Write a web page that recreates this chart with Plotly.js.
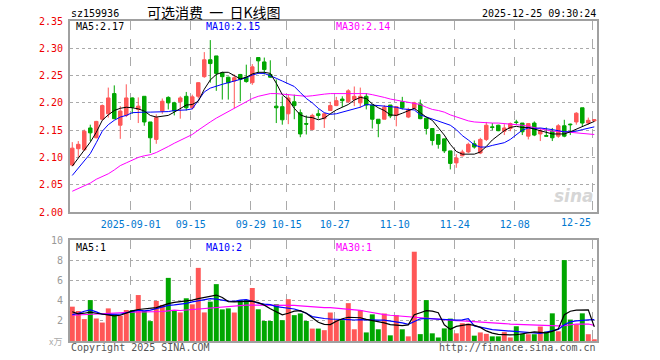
<!DOCTYPE html>
<html><head><meta charset="utf-8">
<script src="https://cdn.plot.ly/plotly-3.0.1.min.js"></script>
<style>html,body{margin:0;padding:0;background:#fff;}#chart{width:660px;height:360px;}</style>
</head><body><div id="chart"></div>
<script>
// ---- data ----
const dateLabels = ['2025-09-01','09-15','09-29','10-15','10-27','11-10','11-24','12-08','12-25'];
const dateIndex  = [10,20,30,36,44,54,64,74,87];
const priceTicks = [2.00,2.05,2.10,2.15,2.20,2.25,2.30,2.35];
const volTicks   = [2,4,6,8,10];

const openP  = [2.086,2.116,2.114,2.154,2.136,2.170,2.180,2.217,2.159,2.177,2.209,2.188,2.212,2.165,2.133,2.185,2.210,2.200,2.202,2.212,2.191,2.212,2.248,2.279,2.286,2.255,2.247,2.240,2.252,2.247,2.237,2.283,2.275,2.252,2.194,2.193,2.180,2.202,2.182,2.162,2.151,2.180,2.171,2.186,2.195,2.207,2.202,2.206,2.200,2.212,2.196,2.170,2.170,2.196,2.177,2.202,2.174,2.190,2.198,2.172,2.153,2.142,2.134,2.112,2.090,2.103,2.110,2.125,2.108,2.133,2.156,2.159,2.148,2.153,2.165,2.163,2.139,2.163,2.143,2.140,2.148,2.139,2.158,2.161,2.165,2.191,2.163,2.167];
const highP  = [2.128,2.130,2.151,2.160,2.167,2.197,2.228,2.232,2.194,2.234,2.210,2.210,2.212,2.165,2.179,2.208,2.212,2.202,2.212,2.220,2.215,2.238,2.293,2.315,2.286,2.257,2.248,2.252,2.253,2.270,2.271,2.283,2.283,2.278,2.243,2.212,2.215,2.215,2.188,2.177,2.180,2.188,2.182,2.202,2.211,2.212,2.225,2.230,2.228,2.218,2.196,2.170,2.196,2.196,2.193,2.211,2.191,2.202,2.206,2.172,2.153,2.142,2.134,2.112,2.106,2.114,2.127,2.131,2.136,2.165,2.163,2.160,2.161,2.164,2.169,2.163,2.162,2.166,2.154,2.155,2.154,2.161,2.169,2.162,2.183,2.191,2.173,2.170];
const lowP   = [2.084,2.100,2.112,2.130,2.135,2.168,2.173,2.170,2.134,2.174,2.180,2.163,2.158,2.108,2.125,2.180,2.188,2.177,2.171,2.186,2.188,2.208,2.246,2.237,2.222,2.206,2.206,2.190,2.203,2.237,2.233,2.253,2.252,2.246,2.163,2.160,2.161,2.170,2.137,2.142,2.151,2.171,2.154,2.185,2.194,2.192,2.200,2.194,2.191,2.188,2.153,2.137,2.170,2.172,2.157,2.188,2.172,2.188,2.170,2.142,2.122,2.116,2.108,2.078,2.081,2.102,2.108,2.116,2.106,2.130,2.150,2.148,2.141,2.148,2.160,2.141,2.133,2.139,2.130,2.139,2.130,2.136,2.137,2.141,2.160,2.157,2.160,2.165];
const closeP = [2.117,2.124,2.148,2.145,2.166,2.195,2.209,2.171,2.185,2.209,2.192,2.194,2.165,2.136,2.173,2.203,2.200,2.185,2.209,2.191,2.211,2.237,2.279,2.272,2.254,2.248,2.237,2.246,2.243,2.239,2.266,2.277,2.261,2.247,2.191,2.169,2.209,2.195,2.143,2.161,2.177,2.177,2.180,2.195,2.204,2.204,2.222,2.212,2.212,2.196,2.170,2.162,2.192,2.176,2.193,2.191,2.188,2.200,2.171,2.153,2.131,2.124,2.112,2.089,2.099,2.110,2.124,2.119,2.133,2.159,2.155,2.149,2.154,2.162,2.164,2.147,2.162,2.141,2.149,2.139,2.136,2.158,2.139,2.160,2.181,2.163,2.168,2.169];

const priceMA5  = [2.084,2.099,2.114,2.128,2.146,2.168,2.178,2.186,2.190,2.192,2.191,2.189,2.185,2.177,2.174,2.175,2.177,2.183,2.190,2.196,2.197,2.203,2.225,2.242,2.252,2.256,2.256,2.250,2.244,2.247,2.253,2.256,2.256,2.254,2.236,2.215,2.206,2.190,2.178,2.174,2.173,2.169,2.172,2.180,2.187,2.192,2.197,2.205,2.210,2.208,2.198,2.191,2.186,2.178,2.177,2.181,2.186,2.190,2.182,2.174,2.168,2.155,2.141,2.124,2.111,2.106,2.106,2.106,2.110,2.120,2.132,2.141,2.149,2.155,2.157,2.155,2.155,2.152,2.149,2.146,2.143,2.143,2.143,2.147,2.152,2.157,2.162,2.166];
const priceMA10 = [2.067,2.081,2.093,2.107,2.127,2.148,2.160,2.168,2.174,2.177,2.182,2.183,2.183,2.183,2.183,2.183,2.184,2.186,2.186,2.187,2.189,2.205,2.220,2.227,2.231,2.234,2.237,2.240,2.243,2.246,2.251,2.254,2.254,2.250,2.245,2.240,2.235,2.230,2.219,2.208,2.200,2.190,2.182,2.179,2.180,2.183,2.185,2.188,2.192,2.197,2.196,2.195,2.195,2.194,2.192,2.189,2.188,2.187,2.178,2.174,2.170,2.167,2.163,2.159,2.151,2.140,2.132,2.123,2.119,2.119,2.122,2.124,2.127,2.133,2.142,2.150,2.154,2.153,2.154,2.153,2.151,2.149,2.147,2.147,2.148,2.151,2.154,2.156];
const priceMA30 = [2.038,2.043,2.048,2.053,2.060,2.065,2.070,2.077,2.085,2.090,2.095,2.100,2.103,2.105,2.109,2.114,2.120,2.126,2.131,2.136,2.142,2.150,2.158,2.165,2.172,2.178,2.184,2.190,2.196,2.203,2.208,2.212,2.215,2.217,2.217,2.216,2.215,2.214,2.213,2.212,2.213,2.215,2.216,2.217,2.217,2.217,2.217,2.217,2.217,2.217,2.215,2.213,2.210,2.207,2.205,2.203,2.202,2.200,2.197,2.192,2.188,2.186,2.183,2.178,2.174,2.170,2.167,2.165,2.164,2.164,2.163,2.163,2.162,2.162,2.161,2.159,2.157,2.155,2.152,2.150,2.148,2.148,2.147,2.146,2.145,2.144,2.143,2.142];

const volume = [3.40,2.97,2.17,4.05,2.23,1.83,3.23,2.63,2.50,3.07,3.07,4.55,2.97,1.97,3.97,3.57,6.25,2.97,2.83,4.23,3.63,7.24,2.83,3.90,5.63,3.13,3.23,2.82,4.05,4.05,5.25,3.14,1.98,1.98,3.64,2.06,4.14,2.56,2.73,1.98,1.23,1.23,1.07,2.82,2.06,2.06,3.75,1.16,3.04,0.85,2.64,1.16,2.72,0.56,2.56,1.16,0.46,8.84,0.68,4.05,0.76,0.35,1.25,2.22,0.76,1.76,1.72,0.53,0.85,0.71,0.46,0.46,0.88,0.35,1.46,0.71,0.67,0.67,1.43,0.93,2.74,0.96,8.01,2.12,1.65,2.74,0.67,0.17];
const volMA5  = [2.90,2.68,2.75,2.85,2.75,2.65,2.62,2.48,2.55,2.78,2.98,3.12,3.18,3.20,3.30,3.50,3.70,3.82,3.88,3.95,4.05,4.20,4.30,4.42,4.55,4.30,3.90,3.87,3.90,3.93,3.95,3.80,3.55,3.20,2.90,2.60,2.75,2.95,3.00,2.75,2.30,1.85,1.65,1.62,1.95,2.20,2.35,2.32,2.30,2.15,2.05,1.95,1.80,1.62,1.55,1.52,1.60,2.60,2.80,3.00,2.95,2.80,1.60,1.15,1.45,1.55,1.65,1.55,1.35,1.00,0.78,0.65,0.60,0.60,0.62,0.70,0.80,0.90,0.85,0.80,0.95,1.20,2.60,2.95,3.05,3.10,3.08,1.40];
const volMA10 = [2.62,2.73,2.95,3.07,2.88,2.65,2.63,2.63,2.65,2.78,2.92,3.05,2.98,3.05,3.20,3.38,3.52,3.58,3.65,3.73,3.88,3.97,4.10,4.20,4.15,4.02,3.95,3.92,4.05,4.10,3.92,3.75,3.65,3.60,3.40,3.30,3.23,3.17,2.98,2.75,2.42,2.30,2.23,2.18,2.13,2.13,2.12,2.08,2.12,2.08,2.07,2.07,2.07,2.00,1.92,1.80,1.65,1.95,2.20,2.23,2.20,2.15,2.07,2.07,2.07,2.10,2.22,1.50,1.35,1.22,1.12,1.07,1.02,0.97,0.90,0.83,0.80,0.75,0.75,0.88,1.00,1.15,1.60,1.90,2.00,2.07,2.10,2.12];
const volMA30 = [2.55,2.58,2.62,2.66,2.72,2.75,2.78,2.82,2.83,2.85,2.88,2.88,2.88,2.88,2.90,2.92,2.98,3.05,3.02,3.07,3.15,3.20,3.25,3.32,3.35,3.38,3.45,3.50,3.53,3.55,3.56,3.56,3.56,3.56,3.56,3.55,3.55,3.52,3.48,3.42,3.35,3.30,3.30,3.30,3.25,3.20,3.15,3.08,3.03,2.92,2.80,2.70,2.62,2.55,2.50,2.43,2.35,2.32,2.28,2.22,2.17,2.12,2.08,2.05,2.02,2.00,1.97,1.92,1.88,1.84,1.80,1.76,1.72,1.68,1.65,1.62,1.58,1.55,1.52,1.50,1.50,1.50,1.52,1.62,1.68,1.68,1.68,1.55];

// ---- drawing ----
const n = closeP.length;
const idx = Array.from({length:n}, (_,i)=>i);
const RED = '#ff5757', GREEN = '#00a600';
const volColors = idx.map(i => closeP[i] >= openP[i] ? RED : GREEN);
const MONO = 'DejaVu Sans Mono';

const L = 70, R = 597, T = 21, B = 341;
const px = x => (x - L) / (R - L);
const py = y => (B - y) / (B - T);

const traces = [
  {type:'candlestick', x: idx, open: openP, high: highP, low: lowP, close: closeP,
   xaxis:'x', yaxis:'y', hoverinfo:'skip', whiskerwidth:0,
   increasing:{line:{color:RED,width:1}, fillcolor:RED},
   decreasing:{line:{color:GREEN,width:1}, fillcolor:GREEN}},
  {type:'scatter', mode:'lines', x: idx, y: priceMA30, xaxis:'x', yaxis:'y', line:{color:'#ff00ff',width:1}, hoverinfo:'skip'},
  {type:'scatter', mode:'lines', x: idx, y: priceMA10, xaxis:'x', yaxis:'y', line:{color:'#0000ff',width:1}, hoverinfo:'skip'},
  {type:'scatter', mode:'lines', x: idx, y: priceMA5,  xaxis:'x', yaxis:'y', line:{color:'#000000',width:1}, hoverinfo:'skip'},
  {type:'bar', x: idx, y: volume, xaxis:'x2', yaxis:'y2', marker:{color: volColors, line:{width:0}}, hoverinfo:'skip'},
  {type:'scatter', mode:'lines', x: idx, y: volMA30, xaxis:'x2', yaxis:'y2', line:{color:'#ff00ff',width:1.2}, hoverinfo:'skip'},
  {type:'scatter', mode:'lines', x: idx, y: volMA10, xaxis:'x2', yaxis:'y2', line:{color:'#0000ff',width:1.2}, hoverinfo:'skip'},
  {type:'scatter', mode:'lines', x: idx, y: volMA5,  xaxis:'x2', yaxis:'y2', line:{color:'#000000',width:1.2}, hoverinfo:'skip'}
];

const gridTicks = dateIndex.map(v => v - 0.25);
const lastK = dateLabels.length - 1;
// last date label is drawn right-aligned at its gridline (as in the reference)
const tickText = dateLabels.map((t,k) => k === lastK ? '' : t);
const xrange = [-0.38, 87.45];
const frame = {showline:true, mirror:true, linecolor:'#a0a0a0', linewidth:2};

function ann(text, x, y, color, opts) {
  return Object.assign({text, x: px(x), y: py(y), xref:'paper', yref:'paper', showarrow:false,
    xanchor:'left', yanchor:'middle', font:{family:MONO, size:10, color}}, opts||{});
}
const NB = '\u00a0\u00a0';

const layout = {
  width:660, height:360,
  margin:{l:L, r:660-R, t:T, b:360-B, pad:0},
  paper_bgcolor:'#fff', plot_bgcolor:'#fff',
  showlegend:false, hovermode:false, dragmode:false,
  bargap:0.17, boxgap:0.17,
  xaxis: Object.assign({domain:[0,1], anchor:'y', range:xrange, rangeslider:{visible:false},
    tickmode:'array', tickvals:gridTicks, ticktext:tickText,
    tickfont:{family:MONO, size:10, color:'#0078d0'}, ticks:'outside', ticklen:2, tickcolor:'rgba(0,0,0,0)',
    showgrid:true, gridcolor:'#aaaaaa', griddash:'dash', gridwidth:1, zeroline:false, fixedrange:true}, frame),
  yaxis: Object.assign({domain:[py(212),1], anchor:'x', range:[2.00,2.35],
    tickmode:'array', tickvals:priceTicks, ticktext:priceTicks.map(v=>v.toFixed(2)),
    tickfont:{family:MONO, size:10, color:'#ee0000'}, ticks:'outside', ticklen:3, tickcolor:'rgba(0,0,0,0)',
    showgrid:true, gridcolor:'#aaaaaa', griddash:'dot', gridwidth:1, zeroline:false, fixedrange:true}, frame),
  xaxis2: Object.assign({domain:[0,1], anchor:'y2', range:xrange, matches:'x',
    tickmode:'array', tickvals:gridTicks, showticklabels:false, ticks:'',
    showgrid:true, gridcolor:'#aaaaaa', griddash:'dash', gridwidth:1, zeroline:false, fixedrange:true}, frame),
  yaxis2: Object.assign({domain:[0,py(240)], anchor:'x2', range:[0,10],
    tickmode:'array', tickvals:volTicks, ticktext:volTicks.map(String),
    tickfont:{family:MONO, size:10, color:'#999999'}, ticks:'outside', ticklen:3, tickcolor:'rgba(0,0,0,0)',
    showgrid:true, gridcolor:'#aaaaaa', griddash:'dot', gridwidth:1, zeroline:false, fixedrange:true}, frame),
  annotations: [
    {text: dateLabels[lastK], x: gridTicks[lastK], xref:'x', y: py(222), yref:'paper', showarrow:false,
     xanchor:'right', yanchor:'middle', font:{family:MONO, size:10, color:'#0078d0'}},
    ann('sz159936', 69, 13, '#000'),
    ann('可选消费' + NB + '一' + NB + '日K线图', 214, 12, '#000', {xanchor:'center', font:{family:'Noto Sans CJK SC', size:14, color:'#000'}}),
    ann('2025-12-25 09:30:24', 598, 13, '#000', {xanchor:'right'}),
    ann('MA5:2.17', 74, 26, '#000'),
    ann('MA10:2.15', 204, 26, '#0000ff'),
    ann('MA30:2.14', 334, 26, '#ff00ff'),
    ann('MA5:1', 74, 247, '#000'),
    ann('MA10:2', 204, 247, '#0000ff'),
    ann('MA30:1', 334, 247, '#ff00ff'),
    ann('x万', 64, 341, '#aaaaaa', {xanchor:'right', font:{family:'Noto Sans CJK SC', size:9, color:'#aaaaaa'}}),
    ann('Copyright 2025 SINA.COM', 69, 347, '#555'),
    ann('http://finance.sina.com.cn', 598, 347, '#555', {xanchor:'right'}),
    ann('<b><i>sina</i></b>', 596, 196, '#d8d8d8', {xanchor:'right', font:{family:'DejaVu Sans', size:17, color:'#d6d6d6'}})
  ]
};

Plotly.newPlot('chart', traces, layout, {displayModeBar:false, staticPlot:true});
</script>
</body></html>
